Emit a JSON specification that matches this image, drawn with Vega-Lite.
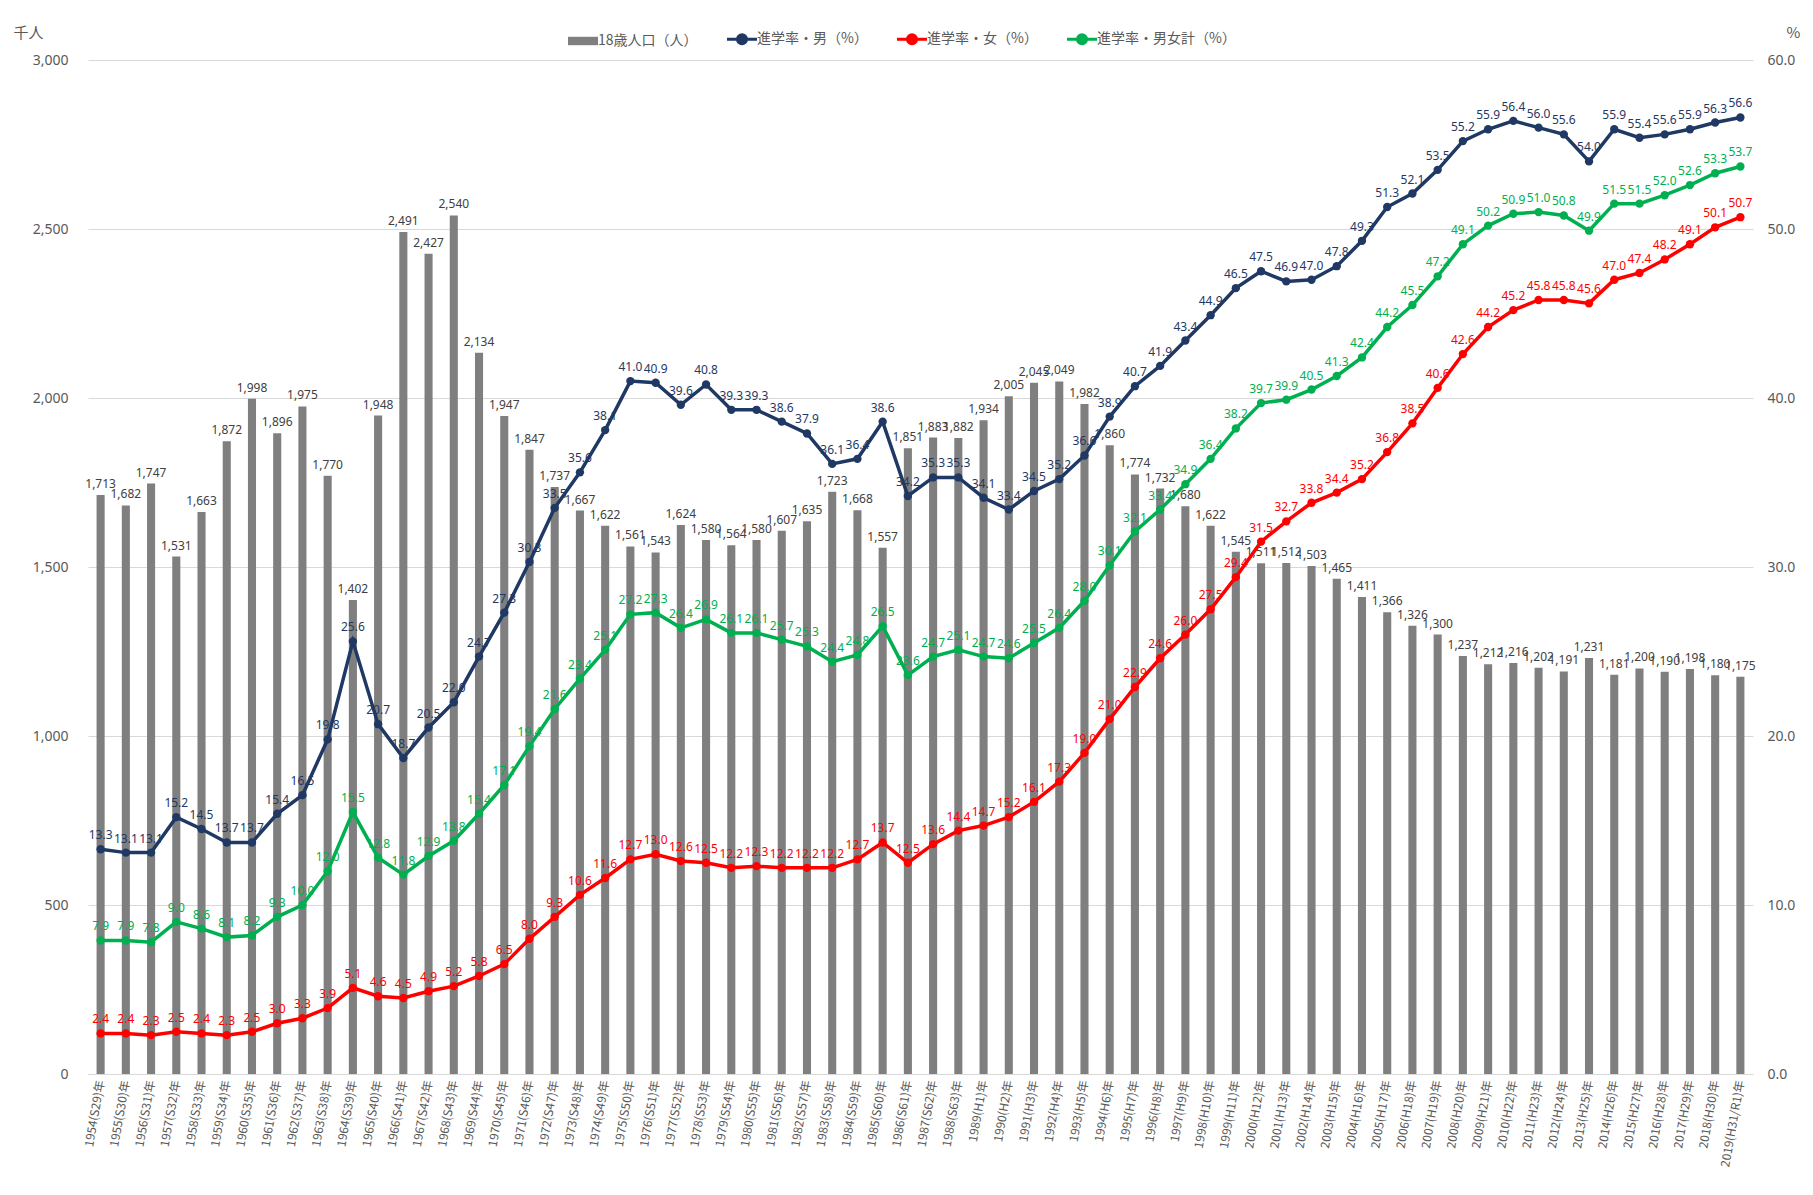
{
  "$schema": "https://vega.github.io/schema/vega-lite/v6.json",
  "width": 1665,
  "height": 1014,
  "autosize": {"type": "none"},
  "padding": {"left": 88, "top": 60, "right": 60, "bottom": 121},
  "background": "white",
  "config": {"view": {"stroke": null}, "font": "Noto Sans CJK JP"},
  "data": {"values": [
    {"label": "1954(S29)年", "pop": 1713, "male": 13.3, "female": 2.4, "total": 7.9},
    {"label": "1955(S30)年", "pop": 1682, "male": 13.1, "female": 2.4, "total": 7.9},
    {"label": "1956(S31)年", "pop": 1747, "male": 13.1, "female": 2.3, "total": 7.8},
    {"label": "1957(S32)年", "pop": 1531, "male": 15.2, "female": 2.5, "total": 9.0},
    {"label": "1958(S33)年", "pop": 1663, "male": 14.5, "female": 2.4, "total": 8.6},
    {"label": "1959(S34)年", "pop": 1872, "male": 13.7, "female": 2.3, "total": 8.1},
    {"label": "1960(S35)年", "pop": 1998, "male": 13.7, "female": 2.5, "total": 8.2},
    {"label": "1961(S36)年", "pop": 1896, "male": 15.4, "female": 3.0, "total": 9.3},
    {"label": "1962(S37)年", "pop": 1975, "male": 16.5, "female": 3.3, "total": 10.0},
    {"label": "1963(S38)年", "pop": 1770, "male": 19.8, "female": 3.9, "total": 12.0},
    {"label": "1964(S39)年", "pop": 1402, "male": 25.6, "female": 5.1, "total": 15.5},
    {"label": "1965(S40)年", "pop": 1948, "male": 20.7, "female": 4.6, "total": 12.8},
    {"label": "1966(S41)年", "pop": 2491, "male": 18.7, "female": 4.5, "total": 11.8},
    {"label": "1967(S42)年", "pop": 2427, "male": 20.5, "female": 4.9, "total": 12.9},
    {"label": "1968(S43)年", "pop": 2540, "male": 22.0, "female": 5.2, "total": 13.8},
    {"label": "1969(S44)年", "pop": 2134, "male": 24.7, "female": 5.8, "total": 15.4},
    {"label": "1970(S45)年", "pop": 1947, "male": 27.3, "female": 6.5, "total": 17.1},
    {"label": "1971(S46)年", "pop": 1847, "male": 30.3, "female": 8.0, "total": 19.4},
    {"label": "1972(S47)年", "pop": 1737, "male": 33.5, "female": 9.3, "total": 21.6},
    {"label": "1973(S48)年", "pop": 1667, "male": 35.6, "female": 10.6, "total": 23.4},
    {"label": "1974(S49)年", "pop": 1622, "male": 38.1, "female": 11.6, "total": 25.1},
    {"label": "1975(S50)年", "pop": 1561, "male": 41.0, "female": 12.7, "total": 27.2},
    {"label": "1976(S51)年", "pop": 1543, "male": 40.9, "female": 13.0, "total": 27.3},
    {"label": "1977(S52)年", "pop": 1624, "male": 39.6, "female": 12.6, "total": 26.4},
    {"label": "1978(S53)年", "pop": 1580, "male": 40.8, "female": 12.5, "total": 26.9},
    {"label": "1979(S54)年", "pop": 1564, "male": 39.3, "female": 12.2, "total": 26.1},
    {"label": "1980(S55)年", "pop": 1580, "male": 39.3, "female": 12.3, "total": 26.1},
    {"label": "1981(S56)年", "pop": 1607, "male": 38.6, "female": 12.2, "total": 25.7},
    {"label": "1982(S57)年", "pop": 1635, "male": 37.9, "female": 12.2, "total": 25.3},
    {"label": "1983(S58)年", "pop": 1723, "male": 36.1, "female": 12.2, "total": 24.4},
    {"label": "1984(S59)年", "pop": 1668, "male": 36.4, "female": 12.7, "total": 24.8},
    {"label": "1985(S60)年", "pop": 1557, "male": 38.6, "female": 13.7, "total": 26.5},
    {"label": "1986(S61)年", "pop": 1851, "male": 34.2, "female": 12.5, "total": 23.6},
    {"label": "1987(S62)年", "pop": 1883, "male": 35.3, "female": 13.6, "total": 24.7},
    {"label": "1988(S63)年", "pop": 1882, "male": 35.3, "female": 14.4, "total": 25.1},
    {"label": "1989(H1)年", "pop": 1934, "male": 34.1, "female": 14.7, "total": 24.7},
    {"label": "1990(H2)年", "pop": 2005, "male": 33.4, "female": 15.2, "total": 24.6},
    {"label": "1991(H3)年", "pop": 2045, "male": 34.5, "female": 16.1, "total": 25.5},
    {"label": "1992(H4)年", "pop": 2049, "male": 35.2, "female": 17.3, "total": 26.4},
    {"label": "1993(H5)年", "pop": 1982, "male": 36.6, "female": 19.0, "total": 28.0},
    {"label": "1994(H6)年", "pop": 1860, "male": 38.9, "female": 21.0, "total": 30.1},
    {"label": "1995(H7)年", "pop": 1774, "male": 40.7, "female": 22.9, "total": 32.1},
    {"label": "1996(H8)年", "pop": 1732, "male": 41.9, "female": 24.6, "total": 33.4},
    {"label": "1997(H9)年", "pop": 1680, "male": 43.4, "female": 26.0, "total": 34.9},
    {"label": "1998(H10)年", "pop": 1622, "male": 44.9, "female": 27.5, "total": 36.4},
    {"label": "1999(H11)年", "pop": 1545, "male": 46.5, "female": 29.4, "total": 38.2},
    {"label": "2000(H12)年", "pop": 1511, "male": 47.5, "female": 31.5, "total": 39.7},
    {"label": "2001(H13)年", "pop": 1512, "male": 46.9, "female": 32.7, "total": 39.9},
    {"label": "2002(H14)年", "pop": 1503, "male": 47.0, "female": 33.8, "total": 40.5},
    {"label": "2003(H15)年", "pop": 1465, "male": 47.8, "female": 34.4, "total": 41.3},
    {"label": "2004(H16)年", "pop": 1411, "male": 49.3, "female": 35.2, "total": 42.4},
    {"label": "2005(H17)年", "pop": 1366, "male": 51.3, "female": 36.8, "total": 44.2},
    {"label": "2006(H18)年", "pop": 1326, "male": 52.1, "female": 38.5, "total": 45.5},
    {"label": "2007(H19)年", "pop": 1300, "male": 53.5, "female": 40.6, "total": 47.2},
    {"label": "2008(H20)年", "pop": 1237, "male": 55.2, "female": 42.6, "total": 49.1},
    {"label": "2009(H21)年", "pop": 1212, "male": 55.9, "female": 44.2, "total": 50.2},
    {"label": "2010(H22)年", "pop": 1216, "male": 56.4, "female": 45.2, "total": 50.9},
    {"label": "2011(H23)年", "pop": 1202, "male": 56.0, "female": 45.8, "total": 51.0},
    {"label": "2012(H24)年", "pop": 1191, "male": 55.6, "female": 45.8, "total": 50.8},
    {"label": "2013(H25)年", "pop": 1231, "male": 54.0, "female": 45.6, "total": 49.9},
    {"label": "2014(H26)年", "pop": 1181, "male": 55.9, "female": 47.0, "total": 51.5},
    {"label": "2015(H27)年", "pop": 1200, "male": 55.4, "female": 47.4, "total": 51.5},
    {"label": "2016(H28)年", "pop": 1190, "male": 55.6, "female": 48.2, "total": 52.0},
    {"label": "2017(H29)年", "pop": 1198, "male": 55.9, "female": 49.1, "total": 52.6},
    {"label": "2018(H30)年", "pop": 1180, "male": 56.3, "female": 50.1, "total": 53.3},
    {"label": "2019(H31/R1)年", "pop": 1175, "male": 56.6, "female": 50.7, "total": 53.7}
  ]},
  "encoding": {
    "x": {
      "field": "label", "type": "ordinal", "sort": null,
      "scale": {"paddingInner": 0.68, "paddingOuter": 0.34},
      "axis": {
        "title": null, "labelAngle": -80, "labelFontSize": 12, "labelColor": "#595959",
        "labelFont": "Noto Sans CJK JP", "ticks": false, "domainColor": "#d9d9d9",
        "labelPadding": 6, "grid": false
      }
    }
  },
  "layer": [
    {
      "layer": [
        {
          "mark": {"type": "bar", "color": "#7f7f7f"},
          "encoding": {
            "y": {
              "field": "pop", "type": "quantitative",
              "scale": {"domain": [0, 3000], "nice": false},
              "axis": {
                "orient": "left", "values": [0, 500, 1000, 1500, 2000, 2500, 3000],
                "labelExpr": "format(datum.value, ',d')",
                "title": "千人", "titleAngle": 0, "titleX": -60, "titleY": -28, "titleAlign": "center",
                "titleBaseline": "middle", "titleFontSize": 15, "titleFontWeight": "normal", "titleColor": "#595959",
                "labelFontSize": 14, "labelColor": "#595959", "labelFont": "Noto Sans", "labelPadding": 20,
                "ticks": false, "domain": false, "grid": true, "gridColor": "#d9d9d9", "gridWidth": 1
              }
            },
            "color": {
              "datum": "pop", "type": "nominal",
              "scale": {"domain": ["pop", "male", "female", "total"], "range": ["#7f7f7f", "#1f3864", "#ff0000", "#00b050"]},
              "legend": {
                "orient": "none", "legendX": 488, "legendY": -28, "direction": "horizontal", "title": null,
                "labelFont": "Noto Sans CJK JP", "labelFontSize": 14, "labelColor": "#595959",
                "symbolSize": 900, "columnPadding": 23, "labelOffset": 8,
                "labelExpr": "datum.label === 'pop' ? '18歳人口（人）' : datum.label === 'male' ? '進学率・男（%）' : datum.label === 'female' ? '進学率・女（%）' : '進学率・男女計（%）'",
                "encode": {
                  "symbols": {
                    "update": {
                      "shape": {"signal": "datum.value === 'pop' ? 'M-1,-0.28H1V0.28H-1Z' : 'M-1,0H1M-0.3,0A0.3,0.3,0,1,0,0.3,0A0.3,0.3,0,1,0,-0.3,0'"},
                      "fill": {"signal": "scale('color', datum.value)"},
                      "stroke": {"signal": "scale('color', datum.value)"},
                      "strokeWidth": {"signal": "datum.value === 'pop' ? 0 : 3"},
                      "opacity": {"value": 1},
                      "fillOpacity": {"value": 1}
                    }
                  }
                }
              }
            }
          }
        },
        {
          "mark": {"type": "text", "baseline": "bottom", "dy": -4, "fontSize": 12, "color": "#404040", "font": "Noto Sans"},
          "encoding": {
            "y": {
              "field": "pop", "type": "quantitative",
              "axis": {
                "orient": "left", "values": [0, 500, 1000, 1500, 2000, 2500, 3000],
                "labelExpr": "format(datum.value, ',d')",
                "title": "千人", "titleAngle": 0, "titleX": -60, "titleY": -28, "titleAlign": "center",
                "titleBaseline": "middle", "titleFontSize": 15, "titleFontWeight": "normal", "titleColor": "#595959",
                "labelFontSize": 14, "labelColor": "#595959", "labelFont": "Noto Sans", "labelPadding": 20,
                "ticks": false, "domain": false, "grid": true, "gridColor": "#d9d9d9", "gridWidth": 1
              }
            },
            "text": {"field": "pop", "type": "quantitative", "format": ","}
          }
        }
      ]
    },
    {
      "transform": [{"fold": ["male", "female", "total"], "as": ["series", "rate"]}],
      "layer": [
        {
          "mark": {"type": "line", "strokeWidth": 3.5, "point": {"filled": true, "size": 70}},
          "encoding": {
            "y": {
              "field": "rate", "type": "quantitative",
              "scale": {"domain": [0, 60], "nice": false},
              "axis": {
                "orient": "right", "values": [0, 10, 20, 30, 40, 50, 60], "labelExpr": "format(datum.value, '.1f')",
                "title": "%", "titleAngle": 0, "titleX": 40, "titleY": -28, "titleAlign": "center",
                "titleBaseline": "middle", "titleFontSize": 15, "titleFontWeight": "normal", "titleColor": "#595959",
                "labelFontSize": 14, "labelColor": "#595959", "labelFont": "Noto Sans", "labelPadding": 14,
                "ticks": false, "domain": false, "grid": false
              }
            },
            "color": {
              "field": "series", "type": "nominal",
              "legend": {
                "orient": "none", "legendX": 488, "legendY": -28, "direction": "horizontal", "title": null,
                "labelFont": "Noto Sans CJK JP", "labelFontSize": 14, "labelColor": "#595959",
                "symbolSize": 900, "columnPadding": 23, "labelOffset": 8,
                "labelExpr": "datum.label === 'pop' ? '18歳人口（人）' : datum.label === 'male' ? '進学率・男（%）' : datum.label === 'female' ? '進学率・女（%）' : '進学率・男女計（%）'"
              }
            }
          }
        },
        {
          "mark": {"type": "text", "baseline": "bottom", "dy": -7, "fontSize": 12, "font": "Noto Sans"},
          "encoding": {
            "y": {
              "field": "rate", "type": "quantitative",
              "axis": {
                "orient": "right", "values": [0, 10, 20, 30, 40, 50, 60], "labelExpr": "format(datum.value, '.1f')",
                "title": "%", "titleAngle": 0, "titleX": 40, "titleY": -28, "titleAlign": "center",
                "titleBaseline": "middle", "titleFontSize": 15, "titleFontWeight": "normal", "titleColor": "#595959",
                "labelFontSize": 14, "labelColor": "#595959", "labelFont": "Noto Sans", "labelPadding": 14,
                "ticks": false, "domain": false, "grid": false
              }
            },
            "text": {"field": "rate", "type": "quantitative", "format": ".1f"},
            "color": {
              "field": "series", "type": "nominal",
              "legend": {
                "orient": "none", "legendX": 488, "legendY": -28, "direction": "horizontal", "title": null,
                "labelFont": "Noto Sans CJK JP", "labelFontSize": 14, "labelColor": "#595959",
                "symbolSize": 900, "columnPadding": 23, "labelOffset": 8,
                "labelExpr": "datum.label === 'pop' ? '18歳人口（人）' : datum.label === 'male' ? '進学率・男（%）' : datum.label === 'female' ? '進学率・女（%）' : '進学率・男女計（%）'"
              }
            }
          }
        }
      ]
    }
  ],
  "resolve": {"scale": {"y": "independent"}}
}
